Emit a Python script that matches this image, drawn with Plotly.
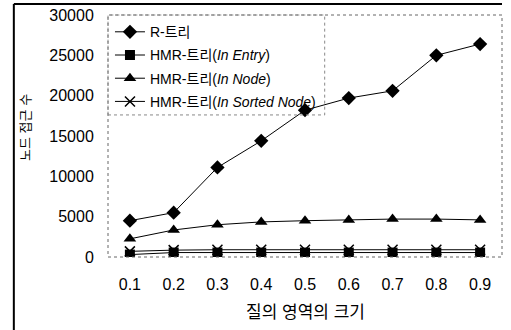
import plotly.graph_objects as go

categories = ["0.1", "0.2", "0.3", "0.4", "0.5", "0.6", "0.7", "0.8", "0.9"]
r_tree = [4500, 5500, 11100, 14400, 18200, 19700, 20600, 25000, 26400]
hmr_entry = [300, 550, 550, 550, 550, 550, 550, 550, 550]
hmr_node = [2250, 3350, 4000, 4350, 4500, 4600, 4700, 4700, 4600]
hmr_sorted = [700, 850, 900, 900, 900, 900, 900, 900, 900]
y_ticks = [0, 5000, 10000, 15000, 20000, 25000, 30000]

names = ["R-트리", "HMR-트리(<i>In Entry</i>)", "HMR-트리(<i>In Node</i>)", "HMR-트리(<i>In Sorted Node</i>)"]
series = [r_tree, hmr_entry, hmr_node, hmr_sorted]
symbols = ["diamond", "square", "triangle-up", "x-thin"]
sizes = [11, 10, 11, 10]

fig = go.Figure()
for i, (name, vals, sym, sz) in enumerate(zip(names, series, symbols, sizes)):
    marker = dict(symbol=sym, size=sz, color="black")
    if sym == "x-thin":
        marker["line"] = dict(color="black", width=1.5)
    fig.add_trace(go.Scatter(x=categories, y=vals, name=name, mode="lines+markers",
                             legendgroup=f"g{i}",
                             line=dict(color="black", width=1), marker=marker))

font_family = "Liberation Sans, Arial, Noto Sans CJK KR"
fig.update_layout(
    width=511, height=330,
    margin=dict(l=108, r=9, t=15, b=73),
    paper_bgcolor="white", plot_bgcolor="white",
    font=dict(family=font_family, size=15, color="black"),
    showlegend=True,
    legend=dict(x=0.005, y=0.995, xanchor="left", yanchor="top",
                bgcolor="rgba(0,0,0,0)", font=dict(size=14, family=font_family),
                itemwidth=30, tracegroupgap=2),
    xaxis=dict(type="category", range=[-0.5, 8.5], showgrid=False, zeroline=False,
               showline=False, ticks="outside", ticklen=13, tickcolor="rgba(0,0,0,0)",
               tickfont=dict(size=16), automargin=False),
    yaxis=dict(range=[0, 30000], tickvals=y_ticks, tickformat="d", showgrid=False,
               zeroline=False, showline=False, ticks="outside", ticklen=10,
               tickcolor="rgba(0,0,0,0)", tickfont=dict(size=16), automargin=False),
    annotations=[
        dict(text="질의 영역의 크기", xref="paper", yref="paper", x=0.5, y=-0.231,
             xanchor="center", yanchor="middle", showarrow=False, font=dict(size=17)),
        dict(text="노드 접근 수", xref="paper", yref="paper", x=-0.211, y=0.537,
             xanchor="center", yanchor="middle", showarrow=False, textangle=-90,
             font=dict(size=13)),
    ],
    shapes=[
        dict(type="rect", xref="paper", yref="paper", x0=0, x1=1, y0=0, y1=1,
             line=dict(color="#666", width=1, dash="dot")),
        dict(type="rect", xref="paper", yref="paper", x0=0, x1=0.55, y0=0.587, y1=1,
             line=dict(color="#888", width=1, dash="dot")),
        dict(type="line", xref="paper", yref="paper", x0=-0.239, x1=-0.239, y0=-0.33, y1=1.045,
             line=dict(color="black", width=2)),
        dict(type="line", xref="paper", yref="paper", x0=-0.239, x1=1.0, y0=1.045, y1=1.045,
             line=dict(color="black", width=2)),
    ],
)
fig.write_html("out.html", config={"displayModeBar": False},
               post_script="document.body.style.margin='0';")
